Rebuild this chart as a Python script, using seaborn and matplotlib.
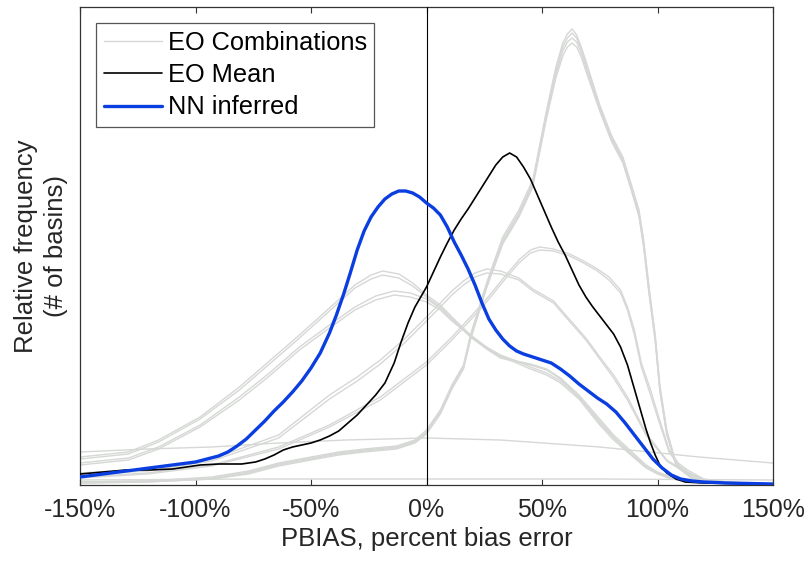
import matplotlib
matplotlib.use("Agg")
import matplotlib.pyplot as plt
import seaborn as sns

# PBIAS (percent) and relative frequency curves (arbitrary density units)
nn_x = [-150, -140, -130, -120, -110, -100, -95, -90, -86, -82, -78, -74, -70, -66, -62,
        -58, -54, -50, -46, -42, -39, -36, -33, -30, -27, -24, -21, -18, -15, -12, -9, -6,
        -3, 0, 3, 6, 9, 12, 15, 18, 21, 24, 27, 30, 33, 36, 39, 42, 46, 50, 54, 58, 62,
        66, 70, 74, 78, 82, 86, 90, 94, 98, 102, 106, 110, 115, 120, 130, 150]
nn_y = [8, 11, 14, 17, 20, 23, 26, 29, 33, 39, 46, 55, 64, 74, 83,
        93, 104, 117, 132, 152, 170, 190, 212, 235, 254, 268, 278, 286, 291, 294, 294, 292,
        288, 282, 277, 270, 258, 243, 230, 216, 200, 182, 166, 155, 146, 139, 134, 131, 128, 125, 122, 116, 109,
        101, 94, 87, 81, 73, 62, 50, 38, 26, 17, 10, 6, 4, 3, 2, 1]

mean_x = [-150, -140, -130, -120, -110, -104, -98, -90, -80, -74, -70, -66, -62, -58, -54,
          -50, -46, -42, -38, -34, -30, -26, -22, -18, -14, -11, -8, -5, -2, 0, 3, 6, 9, 12,
          15, 18, 21, 24, 27, 30, 33, 36, 39, 42, 45, 48, 51, 54, 57, 60, 63, 66, 69, 72, 75,
          78, 81, 84, 87, 89, 91, 93, 95, 97, 99, 101, 104, 108, 112, 120, 150]
mean_y = [11, 13, 15, 15, 16, 18, 20, 21, 21, 23, 26, 30, 35, 38, 40,
          42, 45, 49, 54, 62, 70, 80, 90, 102, 122, 143, 162, 178, 190, 198, 213, 228, 242, 255,
          266, 276, 287, 298, 309, 320, 328, 332, 328, 318, 306, 290, 274, 258, 243, 230, 215, 200, 188, 178, 169,
          160, 151, 138, 120, 104, 88, 72, 56, 42, 30, 20, 12, 6, 3, 2, 1]

# EO combinations
a_x = [-150, -129, -116, -98, -81, -68, -55, -42, -31, -24, -19, -12, -6, 0, 6, 11, 19,
       26, 32, 39, 45, 52, 58, 66, 75, 81, 89, 95, 100, 106, 112, 125, 150]
a1_y = [28, 33, 45, 68, 98, 124, 150, 177, 200, 210, 214, 211, 202, 190, 180, 168, 150,
        137, 128, 124, 121, 116, 107, 90, 66, 50, 33, 20, 13, 8, 5, 2, 1]
a2_y = [26, 31, 43, 66, 95, 121, 147, 174, 197, 206, 210, 207, 199, 188, 178, 166, 148,
        136, 127, 123, 120, 115, 106, 88, 64, 48, 31, 19, 12, 7, 4, 2, 1]
a3_x = [-150, -129, -116, -98, -81, -68, -55, -42, -31, -22, -14, -7, 0, 6, 11, 19,
        26, 32, 39, 45, 52, 58, 66, 75, 81, 89, 95, 100, 106, 112, 125, 150]
a3_y = [22, 27, 38, 60, 88, 112, 138, 160, 178, 189, 194, 192, 186, 177, 166, 150,
        138, 130, 124, 118, 112, 104, 88, 62, 47, 30, 18, 12, 7, 4, 2, 1]
a4_y = [20, 25, 36, 58, 85, 109, 135, 157, 175, 185, 190, 188, 183, 175, 164, 149,
        137, 129, 122, 116, 110, 102, 86, 60, 45, 29, 17, 11, 6, 4, 2, 1]

b_x = [-150, -121, -93, -64, -42, -30, -20, -10, 0, 6, 11, 16, 21, 26, 32, 40, 46, 55, 61,
       69, 75, 81, 87, 95, 104, 113, 121, 135, 150]
b1_y = [12, 16, 26, 50, 90, 108, 125, 145, 168, 182, 194, 204, 212, 216, 214, 207, 196, 184, 168,
        147, 128, 110, 88, 52, 25, 12, 5, 2, 1]
b2_y = [10, 14, 24, 47, 86, 104, 121, 141, 164, 178, 190, 200, 208, 212, 211, 205, 194, 182, 166,
        145, 126, 107, 85, 50, 24, 11, 5, 2, 1]

c_x = [-150, -121, -93, -64, -42, -20, 0, 11, 19, 26, 33, 40, 45, 49, 55, 62, 68, 74, 79,
       84, 87, 90, 93, 97, 100, 105, 109, 113, 120, 130, 150]
c1_y = [8, 12, 20, 38, 60, 88, 123, 148, 168, 186, 206, 225, 235, 238, 236, 231, 224, 216, 208,
        195, 178, 155, 122, 95, 72, 35, 22, 15, 6, 3, 1]
c2_y = [7, 11, 19, 36, 58, 85, 120, 145, 165, 183, 203, 222, 232, 235, 234, 229, 222, 214, 205,
        192, 175, 150, 118, 90, 68, 33, 20, 13, 5, 2, 1]

e_x = [-150, -121, -93, -77, -64, -50, -38, -27, -13, -5, 0, 6, 11, 16, 19, 26, 33, 40, 46,
       52, 56, 59, 61, 63, 65, 67, 69, 75, 80, 85, 89, 92, 94, 96.5, 99, 101, 104, 108, 115,
       122, 135, 150]
e1_y = [3, 4, 8, 14, 22, 28, 33, 36, 39, 45, 55, 75, 100, 120, 150, 202, 248, 275, 305,
        375, 418, 442, 451, 456, 450, 438, 424, 380, 350, 328, 298, 275, 245, 195, 150, 100, 55, 22, 8,
        3, 1, 1]
e2_y = [3, 4, 7, 13, 21, 27, 32, 35, 38, 44, 53, 73, 98, 118, 147, 199, 245, 272, 302,
        372, 414, 438, 447, 452, 447, 436, 421, 378, 348, 326, 296, 272, 242, 192, 148, 98, 53, 21, 7,
        3, 1, 1]
e3_y = [2, 3, 6, 12, 20, 26, 31, 34, 37, 43, 52, 72, 97, 117, 146, 198, 243, 270, 300,
        370, 411, 434, 443, 447, 443, 432, 418, 376, 346, 324, 294, 270, 240, 190, 146, 96, 52, 20, 7,
        2, 1, 1]
e4_y = [2, 3, 6, 11, 19, 25, 30, 33, 36, 42, 51, 71, 96, 116, 145, 197, 241, 268, 298,
        367, 407, 429, 438, 442, 438, 428, 414, 374, 344, 322, 292, 268, 238, 188, 144, 94, 50, 19, 6,
        2, 1, 1]

d_x = [-150, -121, -93, -64, -35, 0, 32, 75, 118, 150]
d_y = [33, 36, 38, 42, 45, 47, 45, 38, 28, 22]
f_x = [-150, -75, 0, 75, 150]
f_y = [5, 6, 6, 6, 5]

eo_curves = [(a_x, a1_y), (a_x, a2_y), (a3_x, a3_y), (a3_x, a4_y),
             (b_x, b1_y), (b_x, b2_y), (c_x, c1_y), (c_x, c2_y),
             (e_x, e1_y), (e_x, e2_y), (e_x, e3_y), (e_x, e4_y),
             (d_x, d_y), (f_x, f_y)]

xticks = [-150, -100, -50, 0, 50, 100, 150]
xticklabels = [f"{t}%" for t in xticks]

sns.set_style("white")
plt.rcParams['font.family'] = ['Liberation Sans', 'DejaVu Sans']

grey = '#d5d8d5'
blue = '#0a3ee0'
txt = '#262626'

fig = plt.figure(figsize=(8.07, 5.63), dpi=100)
ax = fig.add_axes([80 / 807, 78 / 563, 693 / 807, 478 / 563])

for i, (cx, cy) in enumerate(eo_curves):
    sns.lineplot(x=cx, y=cy, ax=ax, color=grey, lw=1.0, estimator=None,
                 label='EO Combinations' if i == 0 else '_nolegend_', legend=False, zorder=2)

ax.axvline(0, color='black', lw=0.8, zorder=3)

sns.lineplot(x=mean_x, y=mean_y, ax=ax, color='black', lw=1.2, estimator=None,
             label='EO Mean', legend=False, zorder=4)
sns.lineplot(x=nn_x, y=nn_y, ax=ax, color=blue, lw=2.4, estimator=None,
             label='NN inferred', legend=False, zorder=5)

ax.set_xlim(-150, 150)
ax.set_ylim(0, 478)
ax.set_xticks(xticks)
ax.set_xticklabels(xticklabels, fontsize=18, color=txt)
ax.set_yticks([])
ax.tick_params(axis='x', direction='in', length=4.5, width=0.8, top=True, bottom=True,
               pad=9.5, colors='#333333', labelcolor=txt)

for s in ax.spines.values():
    s.set_color('#333333')
    s.set_linewidth(0.9)

ax.set_xlabel('PBIAS, percent bias error', fontsize=18.5, color=txt, labelpad=3.5)
ax.set_ylabel('Relative frequency\n(# of basins)', fontsize=18.5, color=txt,
              labelpad=9, linespacing=1.3)

leg = ax.legend(loc='upper left', bbox_to_anchor=(16 / 693, 462 / 478), borderaxespad=0,
                fontsize=18.3, frameon=True, fancybox=False, framealpha=1, edgecolor='#555555',
                borderpad=0.3, handlelength=2.3, handletextpad=0.22, labelspacing=0.33)
leg.get_frame().set_linewidth(0.9)
for t in leg.get_texts():
    t.set_color('black')

fig.savefig('out.png', dpi=100)
